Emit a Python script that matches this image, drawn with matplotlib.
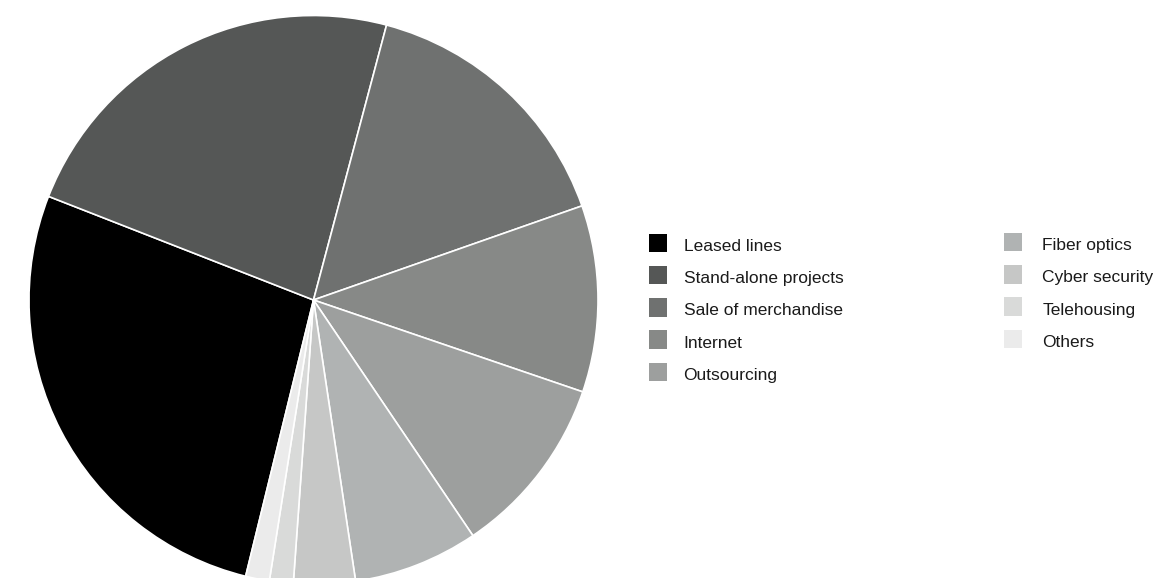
import matplotlib
matplotlib.use("Agg")
import matplotlib.pyplot as plt
from matplotlib.patches import Rectangle

categories = ["Leased lines", "Stand-alone projects", "Sale of merchandise",
              "Internet", "Outsourcing", "Fiber optics", "Cyber security",
              "Telehousing", "Others"]
shares = [27.1, 23.2, 15.5, 10.6, 10.3, 7.1, 3.5, 1.35, 1.35]
colors = ["#000000", "#555756", "#6f7170", "#878987", "#9d9f9e",
          "#b0b3b3", "#c6c7c6", "#d9dad9", "#ebebeb"]

W, H = 1153, 578
fig = plt.figure(figsize=(W / 100, H / 100), dpi=100)
plt.rcParams["font.family"] = ["Liberation Sans", "DejaVu Sans"]

# pie geometry in pixels (top-left origin)
cx, cy, r = 313.5, 300.0, 284.5
ax = fig.add_axes([(cx - r) / W, (H - cy - r) / H, 2 * r / W, 2 * r / H])
wedges, _ = ax.pie(shares, colors=colors, startangle=-103.8, counterclock=False,
                   radius=1.0, wedgeprops=dict(edgecolor="white", linewidth=1.2))
ax.set_xlim(-1, 1)
ax.set_ylim(-1, 1)
ax.set_aspect("auto")
ax.axis("off")

# two-column legend
col_x = [648.5, 1003.5]
text_x = [683.5, 1042.5]
row_y = [[243, 275, 307.3, 339.5, 371.8], [242, 274.3, 306.5, 338.8]]
sq = 18.5
idx = 0
for c, rows in enumerate(row_y):
    for y in rows:
        x0 = col_x[c]
        fig.add_artist(Rectangle((x0 / W, (H - y - sq / 2) / H), sq / W, sq / H,
                                 transform=fig.transFigure,
                                 facecolor=colors[idx], edgecolor="none"))
        fig.text(text_x[c] / W, (H - y - 8) / H, categories[idx],
                 fontsize=12.5, color="#1a1a1a", va="baseline", ha="left")
        idx += 1

fig.savefig("out.png", dpi=100)
